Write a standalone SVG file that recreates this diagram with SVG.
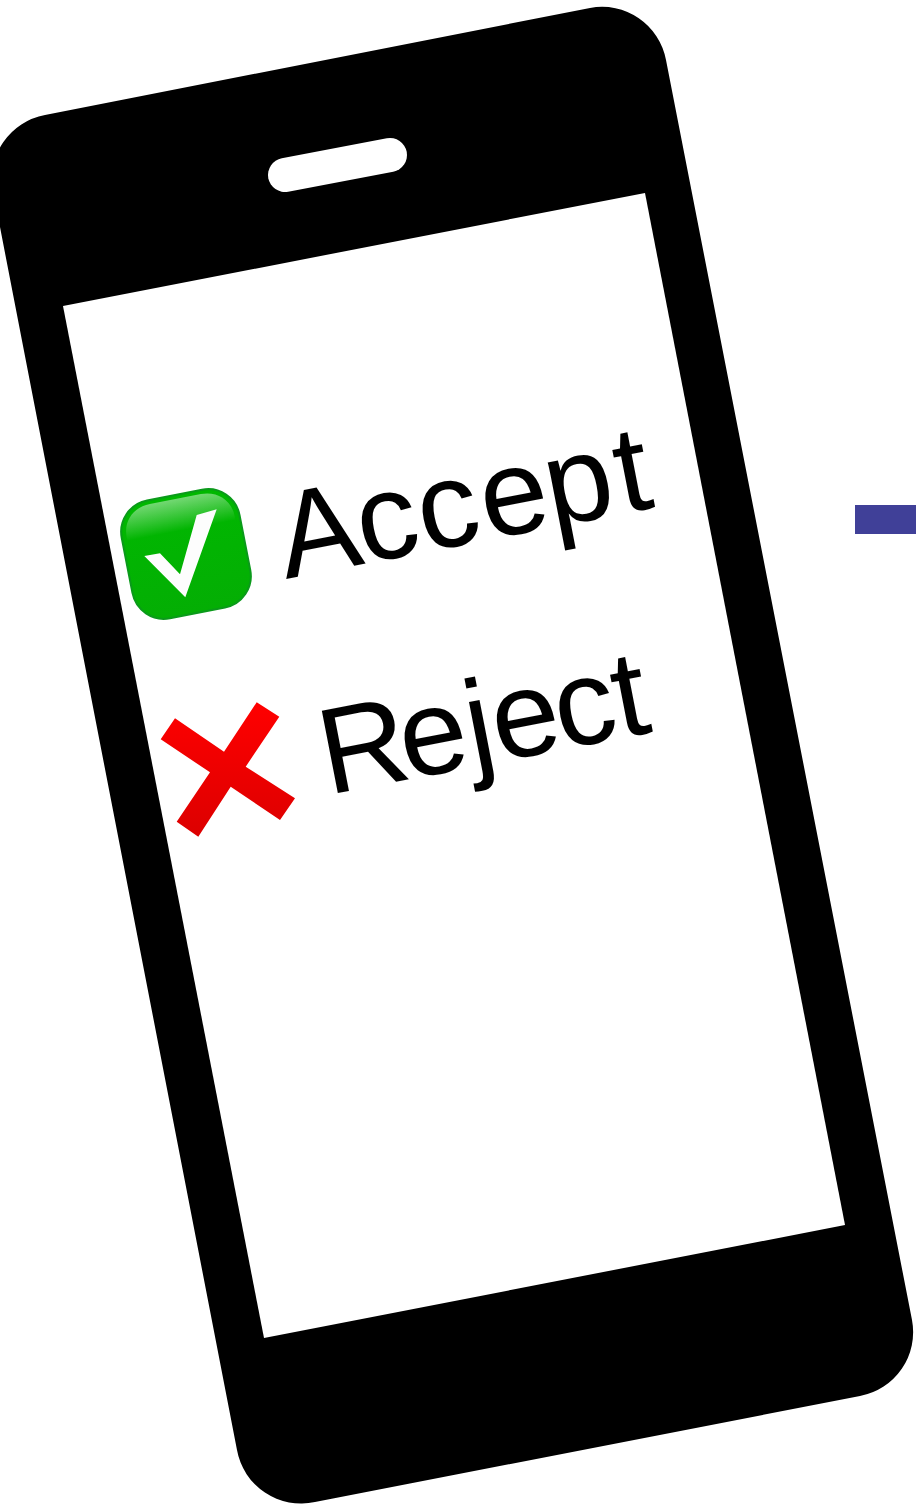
<svg xmlns="http://www.w3.org/2000/svg" width="916" height="1507" viewBox="0 0 916 1507">
<style>.t{font-family:"Liberation Sans",Arial,Helvetica,sans-serif;font-size:122px;fill:#000}</style>
<defs>
<linearGradient id="g" x1="0" y1="0" x2="0" y2="1"><stop offset="0" stop-color="#00b800"/><stop offset="1" stop-color="#04ae04"/></linearGradient>
<linearGradient id="h" x1="0" y1="0" x2="0" y2="1"><stop offset="0" stop-color="#fff" stop-opacity=".45"/><stop offset="1" stop-color="#fff" stop-opacity="0"/></linearGradient>
<linearGradient id="r" x1="0" y1="0" x2="0" y2="1"><stop offset="0" stop-color="#ff0000"/><stop offset="1" stop-color="#dc0000"/></linearGradient>
</defs>
<rect width="916" height="1507" fill="#fff"/>
<g id="phone">
<path d="M45 115L590 8A65 65 0 0 1 666 60L912 1320A65 65 0 0 1 860 1396L315 1502A65 65 0 0 1 237 1450L-7 191A65 65 0 0 1 45 115Z" fill="#000"/>
<path d="M63 306L645 193L845 1225L264 1338Z" fill="#fff"/>
<line x1="285" y1="175" x2="390" y2="155" stroke="#fff" stroke-width="34" stroke-linecap="round"/>
</g>
<g id="accept">
<g transform="rotate(-11 186 554)">
<rect x="126" y="494" width="120" height="120" rx="32" fill="url(#g)" stroke="#0b9a1b" stroke-width="2"/>
<path d="M131 530V526C131 509 144 498 160 498H212C228 498 241 509 241 526V530Z" fill="url(#h)"/>
</g>
<polygon points="144.300,556 160,553.300 180,574.300 196.700,515 216.700,509.300 185.300,597.300" fill="#fdfdfd"/>
<text class="t" transform="translate(286 579) rotate(-11)"><tspan>A</tspan><tspan dx="-2">c</tspan><tspan dx="1">c</tspan><tspan dx="3">e</tspan><tspan dx="-2">p</tspan><tspan dx="4">t</tspan></text>
</g>
<g id="reject">
<polygon points="256.700,702.300 279.300,716.700 245.700,766.700 295,798.300 280,820 230.700,786.700 198.300,836.700 176.700,821.700 210,772.300 160.700,739.300 175,718.300 224,751.700" fill="url(#r)"/>
<text class="t" transform="translate(328 795) rotate(-11)"><tspan>R</tspan><tspan dx="-8">e</tspan><tspan>j</tspan><tspan dx="-1">e</tspan><tspan dx="-4">c</tspan><tspan dx="-1">t</tspan></text>
</g>
<g id="connectors"><rect x="855" y="505" width="61" height="29" fill="#404098"/></g>
</svg>
